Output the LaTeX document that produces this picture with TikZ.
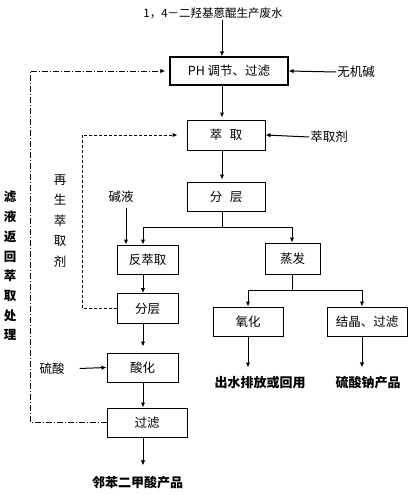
\documentclass[tikz,border=0pt]{standalone}
\usepackage{fontspec}
\setmainfont{Noto Sans CJK SC}
\usetikzlibrary{arrows.meta, calc}
\tikzset{
    box/.style={draw, line width=1pt, fill=white, align=center, inner sep=1pt, minimum height=29pt},
    arr/.style={-{Latex[length=5pt, width=4.5pt]}, line width=1pt},
    line/.style={line width=1pt},
    lbl/.style={inner sep=1pt},
    prod/.style={inner sep=1pt, font=\fontsize{13}{15}\selectfont\bfseries},
    recycle/.style={line width=0.9pt, dash pattern=on 6pt off 2pt on 1pt off 2pt},
    regen/.style={line width=0.9pt, dash pattern=on 3pt off 2pt}
}
\begin{document}
\begin{tikzpicture}[x=1pt, y=-1pt, font=\fontsize{12.5}{14}\selectfont]
    \useasboundingbox (0,0) rectangle (411,495);
    \coordinate (mid) at (222,0);
    \coordinate (lft) at (143,0);
    \coordinate (rgt) at (292,0);
    \coordinate (oxc) at (248,0);
    \coordinate (crc) at (362,0);
    \coordinate (lx) at (30,0);
    \coordinate (dx) at (82,0);
    \coordinate (j1) at (222,227);
    \coordinate (j2) at (292,290);

    \node[lbl, font=\fontsize{11.5}{14}\selectfont] (water) at (213,13) {1，4－二羟基蒽醌生产废水};
    \node[box, minimum width=118pt, minimum height=28pt, line width=1.3pt] (ph) at (229,71) {PH 调节、过滤};
    \node[lbl] (base) at (356,72) {无机碱};
    \node[box, minimum width=78pt, minimum height=30pt] (extract) at (226,135) {萃\hspace{0.6em}取};
    \node[lbl] (solvent) at (329,137) {萃取剂};
    \node[box, minimum width=78pt] (sep1) at (226,196.5) {分\hspace{0.6em}层};
    \node[lbl] (lye) at (121,197) {碱液};
    \node[box, minimum width=61pt] (back) at (147.5,259.5) {反萃取};
    \node[box, minimum width=55pt, minimum height=31pt] (evap) at (292.5,258.5) {蒸发};
    \node[box, minimum width=61pt, minimum height=30pt] (sep2) at (147.5,308.5) {分层};
    \node[box, minimum width=70pt] (oxid) at (248,321.5) {氧化};
    \node[box, minimum width=80pt] (cryst) at (367,321.5) {结晶、过滤};
    \node[prod] (effl) at (260,383) {出水排放或回用};
    \node[prod] (salt) at (368,383) {硫酸钠产品};
    \node[box, minimum width=71pt] (acid) at (142.5,367.5) {酸化};
    \node[lbl] (sulf) at (52,369) {硫酸};
    \node[box, minimum width=80pt] (filt) at (147,422.5) {过滤};
    \node[prod] (pa) at (137.5,483) {邻苯二甲酸产品};
    \node[align=center, inner sep=0pt, font=\fontsize{12.5}{19.7}\selectfont\bfseries] (filtrate) at (10,266) {滤\\液\\返\\回\\萃\\取\\处\\理};
    \node[align=center, inner sep=0pt, font=\fontsize{12.5}{20.5}\selectfont] (regent) at (60,221) {再\\生\\萃\\取\\剂};

    \draw[arr] (water.south -| mid) -- (ph.north -| mid);
    \draw[arr] (base.west) -- (ph.east);
    \draw[arr, shorten >=2pt] (ph.south -| mid) -- (extract.north -| mid);
    \draw[arr] (solvent.west) -- (extract.east);
    \draw[arr, shorten >=2pt] (extract.south -| mid) -- (sep1.north -| mid);
    \draw[line] (sep1.south -| mid) -- (j1);
    \draw[line] (j1 -| lft) -- (j1 -| rgt);
    \draw[arr] (j1 -| lft) -- (back.north -| lft);
    \draw[arr] (j1 -| rgt) -- (evap.north -| rgt);
    \draw[arr, shorten <=4pt] (lye.south -| 126,0) -- (back.north -| 126,0);
    \draw[arr] (back.south -| lft) -- (sep2.north -| lft);
    \draw[line] (evap.south -| rgt) -- (j2);
    \draw[line] (j2 -| oxc) -- (j2 -| crc);
    \draw[arr] (j2 -| oxc) -- (oxid.north -| oxc);
    \draw[arr] (j2 -| crc) -- (cryst.north -| crc);
    \draw[arr, shorten >=8pt] (oxid.south -| oxc) -- (effl.north -| oxc);
    \draw[arr, shorten >=8pt] (cryst.south -| crc) -- (salt.north -| crc);
    \draw[arr, shorten >=6pt] (sep2.south -| lft) -- (acid.north -| lft);
    \draw[arr, shorten <=14pt] (sulf.east) -- (acid.west);
    \draw[arr] (acid.south -| lft) -- (filt.north -| lft);
    \draw[arr, shorten >=10pt] (filt.south -| lft) -- (pa.north -| lft);
    \draw[recycle, arr, shorten >=4pt] (filt.west) -- (filt.west -| lx) |- (ph.west);
    \draw[regen, arr, shorten >=9pt] (sep2.west) -- (sep2.west -| dx) |- (extract.west);
\end{tikzpicture}
\end{document}
